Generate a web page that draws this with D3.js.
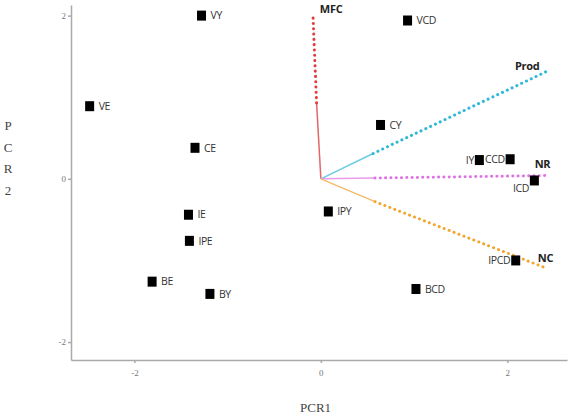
<!DOCTYPE html>
<html lang="en">
	<head>
		<meta charset="utf-8">
		<title>PCR biplot</title>
		<style>
			body { margin: 0; background: #fff; }
			.axis path, .axis line { stroke: #aaa; stroke-width: 1.5; }
			.axis text { fill: #777; font: 9px "Liberation Serif", serif; }
			.pt-label { fill: #333; font: 10.5px "Open Sans", sans-serif; letter-spacing: -0.4px; }
			.vec-label { fill: #222; font: bold 11px "Open Sans", sans-serif; letter-spacing: -0.3px; }
			.title { fill: #444; font: 13px "Liberation Serif", serif; }
		</style>
	</head>
	<body>
		<svg id="chart" width="570" height="416"></svg>
		<script src="https://cdn.jsdelivr.net/npm/d3@7"></script>
		<script>

			// scores (observations)
			var names = ["VY", "VCD", "VE", "CE", "CY", "IY", "CCD", "ICD", "IE", "IPE", "BE", "BY", "IPY", "IPCD", "BCD"];
			var pcr1  = [-1.28, 0.93, -2.48, -1.35, 0.64, 1.70, 2.03, 2.29, -1.42, -1.41, -1.81, -1.19, 0.08, 2.09, 1.02];
			var pcr2  = [2.00, 1.94, 0.89, 0.38, 0.66, 0.23, 0.24, -0.02, -0.44, -0.76, -1.26, -1.41, -0.40, -1.00, -1.35];
			// which side the label goes
			var labelSide = ["r", "r", "r", "r", "r", "l", "l", "bl", "r", "r", "r", "r", "r", "l", "r"];

			// loadings (vectors): solid part and dotted extension
			var vars   = ["MFC", "Prod", "NR", "NC"];
			var loadX  = [-0.046, 0.56, 0.58, 0.58];
			var loadY  = [0.93, 0.31, 0.01, -0.28];
			var extX   = [-0.086, 2.43, 2.42, 2.43];
			var extY   = [2.03, 1.32, 0.04, -1.10];
			var dotCol   = ["#e03a3a", "#2fb8d8", "#e070e6", "#f2a630"];
			var solidCol = ["#e06868", "#6ccbe2", "#ea9cea", "#f2bc6a"];

			var xTicks = [-2, 0, 2];
			var yTicks = [-2, 0, 2];

			var svg = d3.select("#chart");

			var x = d3.scaleLinear().domain([-2.68, 2.64]).range([71, 567]);
			var y = d3.scaleLinear().domain([-2.22, 2.13]).range([360, 5]);

			// axes
			svg.append("g")
				.attr("class", "axis")
				.attr("transform", "translate(0,360)")
				.call(d3.axisBottom(x).tickValues(xTicks).tickFormat(function(d) { return String(d); })
					.tickSize(3).tickPadding(7).tickSizeOuter(0));

			svg.append("g")
				.attr("class", "axis")
				.attr("transform", "translate(71,0)")
				.call(d3.axisLeft(y).tickValues(yTicks).tickFormat(function(d) { return String(d); })
					.tickSize(3).tickPadding(2).tickSizeOuter(0));

			// axis titles
			svg.append("text")
				.attr("class", "title")
				.attr("x", 300)
				.attr("y", 412)
				.text("PCR1");

			svg.append("g").selectAll("text")
				.data(["P", "C", "R", "2"])
				.enter().append("text")
					.attr("class", "title")
					.attr("x", 8)
					.attr("y", function(d, i) { return 130 + i * 21.7; })
					.attr("text-anchor", "middle")
					.text(function(d) { return d; });

			// vectors
			var vec = svg.append("g").selectAll("g")
				.data(vars)
				.enter().append("g");

			vec.append("line")
				.attr("x1", x(0)).attr("y1", y(0))
				.attr("x2", function(d, i) { return x(loadX[i]); })
				.attr("y2", function(d, i) { return y(loadY[i]); })
				.attr("stroke", function(d, i) { return solidCol[i]; })
				.attr("stroke-width", 1.5);

			vec.append("line")
				.attr("x1", function(d, i) { return x(loadX[i]); })
				.attr("y1", function(d, i) { return y(loadY[i]); })
				.attr("x2", function(d, i) { return x(extX[i]); })
				.attr("y2", function(d, i) { return y(extY[i]); })
				.attr("stroke", function(d, i) { return dotCol[i]; })
				.attr("stroke-width", 3)
				.attr("stroke-linecap", "round")
				.attr("stroke-dasharray", "0.1,5.2");

			// vector label offsets
			var vOff = { MFC: [7, -4, "start"], Prod: [-8, -5, "end"], NR: [-4, -11, "middle"], NC: [-2, -10, "middle"] };
			vec.append("text")
				.attr("class", "vec-label")
				.attr("x", function(d, i) { return x(extX[i]) + vOff[d][0]; })
				.attr("y", function(d, i) { return y(extY[i]) + vOff[d][1]; })
				.attr("dy", "0.35em")
				.attr("text-anchor", function(d) { return vOff[d][2]; })
				.text(function(d) { return d; });

			// score points
			var pt = svg.append("g").selectAll("g")
				.data(names)
				.enter().append("g")
					.attr("transform", function(d, i) { return "translate(" + x(pcr1[i]) + "," + y(pcr2[i]) + ")"; });

			pt.append("rect")
				.attr("x", -4.5)
				.attr("y", -5)
				.attr("width", 9)
				.attr("height", 10)
				.attr("fill", "#000");

			pt.append("text")
				.attr("class", "pt-label")
				.attr("x", function(d, i) { return labelSide[i] === "r" ? 9 : -5.5; })
				.attr("y", function(d, i) { return labelSide[i] === "bl" ? 8 : 0; })
				.attr("dy", "0.35em")
				.attr("text-anchor", function(d, i) { return labelSide[i] === "r" ? "start" : "end"; })
				.text(function(d) { return d; });

		</script>
	</body>
</html>
